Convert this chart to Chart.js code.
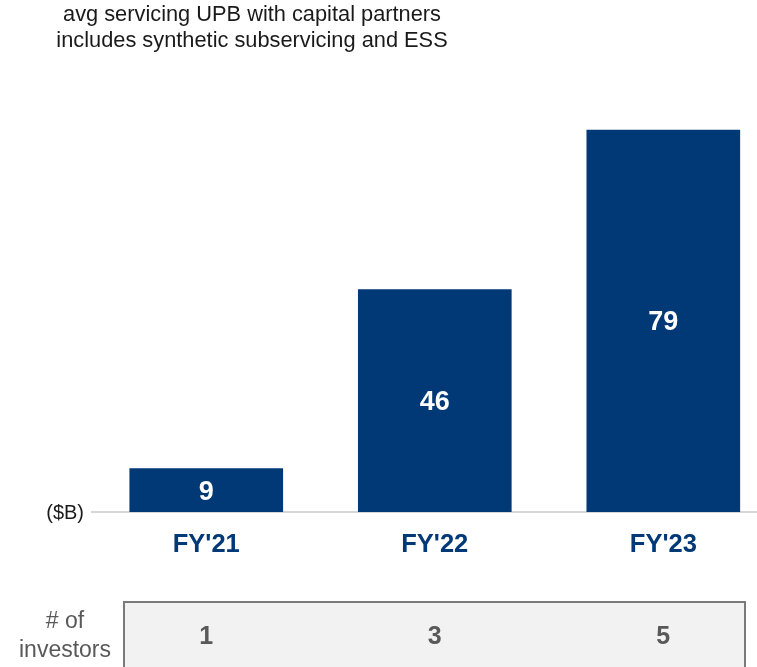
<!DOCTYPE html>
<html>
<head>
<meta charset="utf-8">
<script src="https://cdn.jsdelivr.net/npm/chart.js@4.4.0/dist/chart.umd.min.js"></script>
<style>
    html, body { margin: 0; padding: 0; background: #ffffff; overflow: hidden; }
    #wrap { width: 757px; height: 667px; position: relative; }
</style>
</head>
<body>
<div id="wrap"><canvas id="upbChart" width="757" height="667"></canvas></div>
<script>
// Chart data
const years = ["FY'21", "FY'22", "FY'23"];
const avgUpb = [9, 46, 79];
const investors = [1, 3, 5];
const titleLines = ['avg servicing UPB with capital partners', 'includes synthetic subservicing and ESS'];
const unitLabel = '($B)';
const investorLabel = ['# of', 'investors'];

const navy = '#013876';
const grayText = '#595959';
const fontFamily = '"Liberation Sans", Arial, sans-serif';

// Draws the value inside each bar
const valueLabels = {
    id: 'valueLabels',
    afterDatasetsDraw(chart) {
        const ctx = chart.ctx;
        const meta = chart.getDatasetMeta(0);
        ctx.save();
        ctx.fillStyle = '#ffffff';
        ctx.font = 'bold 27px ' + fontFamily;
        ctx.textAlign = 'center';
        ctx.textBaseline = 'middle';
        meta.data.forEach(function(bar, i) {
            ctx.fillText(String(avgUpb[i]), bar.x, (bar.y + bar.base) / 2 + 2);
        });
        ctx.restore();
    }
};

// Title, unit label and the investor count row
const extras = {
    id: 'extras',
    afterDraw(chart) {
        const ctx = chart.ctx;
        const xScale = chart.scales.x;
        ctx.save();

        ctx.fillStyle = '#1a1a1a';
        ctx.font = '21.8px ' + fontFamily;
        ctx.textAlign = 'center';
        ctx.textBaseline = 'middle';
        ctx.fillText(titleLines[0], 252, 15);
        ctx.fillText(titleLines[1], 252, 41);

        ctx.font = '20px ' + fontFamily;
        ctx.textAlign = 'right';
        ctx.fillText(unitLabel, 84, chart.chartArea.bottom + 1);

        // investor box
        ctx.fillStyle = '#f2f2f2';
        ctx.fillRect(124, 602, 621, 80);
        ctx.strokeStyle = '#7a7a7a';
        ctx.lineWidth = 2;
        ctx.strokeRect(124, 602, 621, 80);

        ctx.fillStyle = grayText;
        ctx.font = '23px ' + fontFamily;
        ctx.textAlign = 'center';
        ctx.fillText(investorLabel[0], 65, 622);
        ctx.fillText(investorLabel[1], 65, 651);

        ctx.font = 'bold 25px ' + fontFamily;
        investors.forEach(function(n, i) {
            ctx.fillText(String(n), xScale.getPixelForValue(i), 637);
        });
        ctx.restore();
    }
};

const ctx = document.getElementById('upbChart').getContext('2d');
const upbChart = new Chart(ctx, {
    type: 'bar',
    data: {
        datasets: [{
            data: avgUpb.map(function(v, i) { return { x: i, y: v }; }),
            backgroundColor: navy,
            borderWidth: 0,
            barThickness: 153
        }]
    },
    options: {
        responsive: false,
        animation: false,
        layout: {
            padding: { top: 101, left: 92, right: 0, bottom: 0 }
        },
        plugins: {
            legend: { display: false },
            tooltip: { enabled: false }
        },
        scales: {
            x: {
                type: 'linear',
                min: -0.5,
                max: 2.41,
                offset: false,
                grid: { display: false, drawTicks: false, offset: false },
                border: { display: true, color: '#d6d6d6', width: 2 },
                afterBuildTicks: function(scale) {
                    scale.ticks = years.map(function(_, i) { return { value: i }; });
                },
                afterFit: function(scale) {
                    scale.height = 155;
                },
                ticks: {
                    padding: 18,
                    color: navy,
                    font: { family: fontFamily, size: 25.5, weight: 'bold' },
                    autoSkip: false,
                    maxRotation: 0,
                    callback: function(value) { return years[value]; }
                }
            },
            y: {
                display: false,
                min: 0,
                max: 85
            }
        }
    },
    plugins: [valueLabels, extras]
});
</script>
</body>
</html>
